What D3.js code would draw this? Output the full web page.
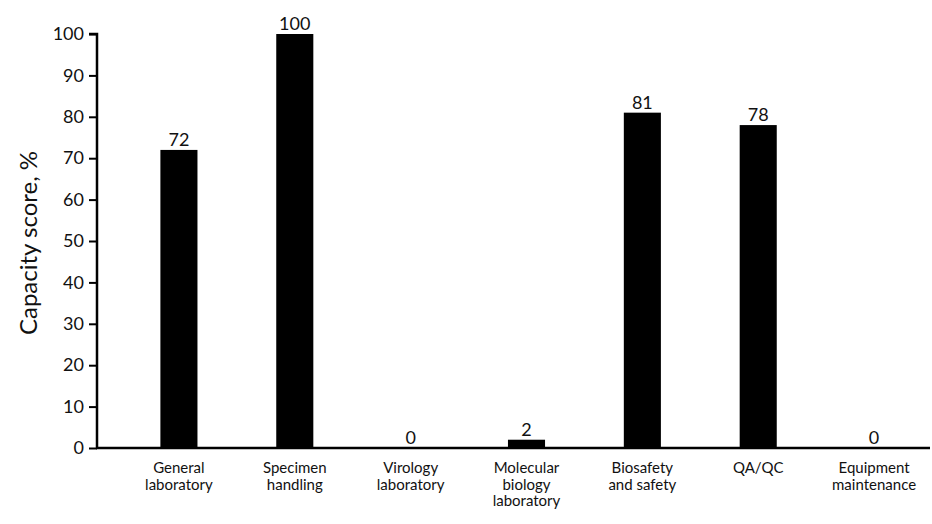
<!DOCTYPE html>
<html><head><meta charset="utf-8">
<script src="https://cdn.jsdelivr.net/npm/d3@7"></script>
<style>body{margin:0;background:#fff;} svg{display:block;}</style>
</head><body>
<svg id="c" width="932" height="524"></svg>
<script>
const categories = [["General","laboratory"],["Specimen","handling"],["Virology","laboratory"],["Molecular","biology","laboratory"],["Biosafety","and safety"],["QA/QC"],["Equipment","maintenance"]];
const values = [72,100,0,2,81,78,0];
const yTicks = [0,10,20,30,40,50,60,70,80,90,100];

const font = "Lato, 'Open Sans', sans-serif";
const svg = d3.select("#c");
const x = d3.scaleBand().domain(d3.range(values.length)).range([121, 932]).paddingInner(0.68).paddingOuter(0.34);
const y = d3.scaleLinear().domain([0,100]).range([448, 34]);

const yAxis = d3.axisLeft(y).tickValues(yTicks).tickSize(8).tickPadding(5);
const gy = svg.append("g").attr("transform","translate(97,0)").call(yAxis);
gy.select(".domain").attr("stroke","#000").attr("stroke-width",2.5).attr("d","M-8,34H0V448");
gy.selectAll(".tick line").attr("stroke","#000").attr("stroke-width",2);
gy.selectAll(".tick text").attr("font-family",font).attr("font-size",18).attr("fill","#111");

svg.append("g").selectAll("rect").data(values).join("rect")
  .attr("x",(d,i)=>x(i)).attr("width",x.bandwidth())
  .attr("y",d=>y(d)).attr("height",d=>y(0)-y(d)).attr("fill","#000");

svg.append("line").attr("x1",96).attr("x2",930).attr("y1",448).attr("y2",448).attr("stroke","#000").attr("stroke-width",2.5);

svg.append("g").selectAll("text").data(values).join("text")
  .attr("x",(d,i)=>x(i)+x.bandwidth()/2).attr("y",d=>y(d)-4)
  .attr("text-anchor","middle").attr("font-family",font).attr("font-size",18).attr("fill","#111")
  .text(d=>d);

const cl = svg.append("g");
categories.forEach((lines,i)=>{
  const t = cl.append("text").attr("x",x(i)+x.bandwidth()/2).attr("y",473)
    .attr("text-anchor","middle").attr("font-family",font).attr("font-size",15).attr("fill","#111");
  lines.forEach((l,j)=>t.append("tspan").attr("x",x(i)+x.bandwidth()/2).attr("dy",j?16.5:0).text(l));
});

svg.append("text").attr("transform","translate(37,243) rotate(-90)").attr("text-anchor","middle")
  .attr("font-family",font).attr("font-size",24).attr("fill","#111").text("Capacity score, %");
</script>
</body></html>
